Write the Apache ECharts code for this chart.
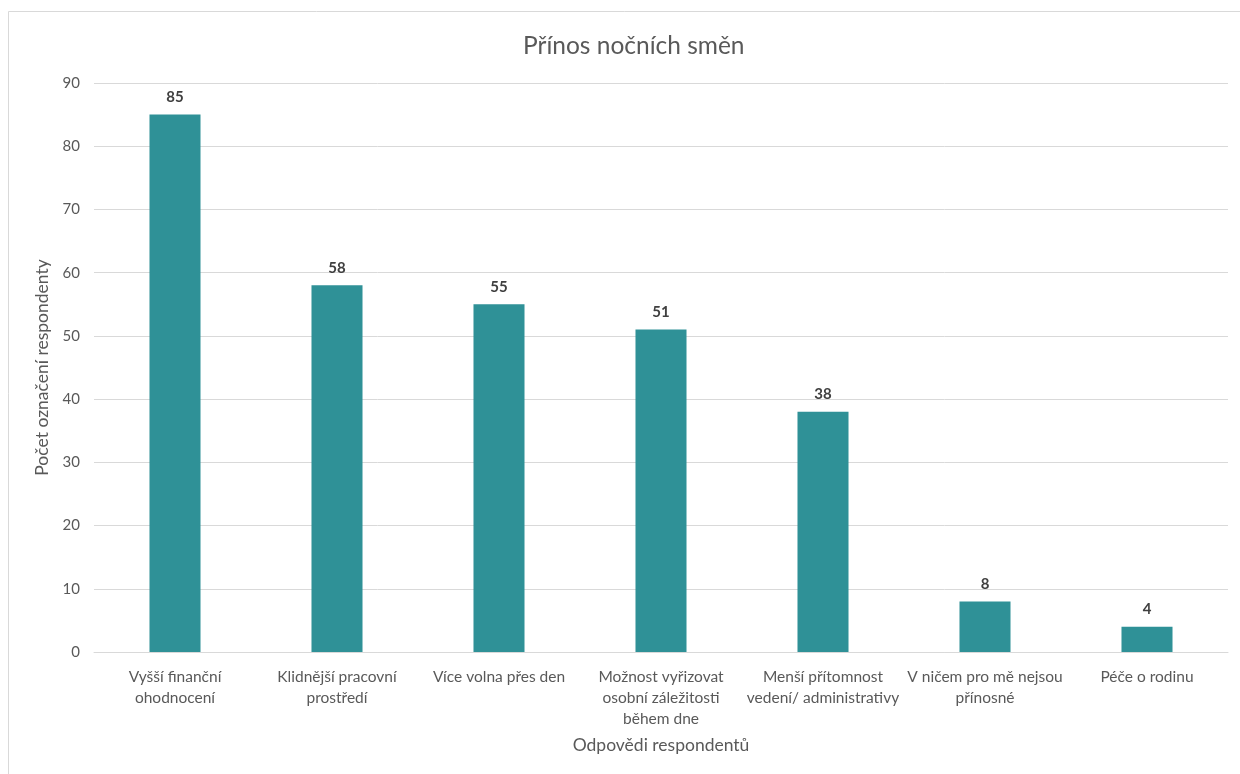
<!DOCTYPE html>
<html>
<head>
<meta charset="utf-8">
<title>Přínos nočních směn</title>
<script src="https://cdn.jsdelivr.net/npm/echarts@6/dist/echarts.min.js"></script>
<style>
    html, body { margin: 0; padding: 0; background: #fff; }
    #main { width: 1240px; height: 774px; }
</style>
</head>
<body>
<div id="main"></div>
<script>
var categories = [
    'Vyšší finanční\nohodnocení',
    'Klidnější pracovní\nprostředí',
    'Více volna přes den',
    'Možnost vyřizovat\nosobní záležitosti\nběhem dne',
    'Menší přítomnost\nvedení/ administrativy',
    'V ničem pro mě nejsou\npřínosné',
    'Péče o rodinu'
];
var values = [85, 58, 55, 51, 38, 8, 4];
var yTicks = { min: 0, max: 90, interval: 10 };

var font = 'Lato, "Open Sans", sans-serif';
var chart = echarts.init(document.getElementById('main'));

var option = {
    backgroundColor: '#fff',
    animation: false,
    title: {
        text: 'Přínos nočních směn',
        left: 518,
        top: 29,
        textStyle: { fontFamily: font, fontSize: 24.5, fontWeight: 'normal', color: '#595959' }
    },
    graphic: [{
        type: 'rect',
        shape: { x: 8.5, y: 11.5, width: 1240, height: 770 },
        style: { fill: 'none', stroke: '#d9d9d9', lineWidth: 1 },
        silent: true
    }],
    grid: { left: 94, right: 12, top: 83, bottom: 122 },
    xAxis: {
        type: 'category',
        data: categories,
        name: 'Odpovědi respondentů',
        nameLocation: 'middle',
        nameGap: 84,
        nameTextStyle: { fontFamily: font, fontSize: 17.5, color: '#595959' },
        axisLine: { lineStyle: { color: '#d9d9d9' } },
        axisTick: { show: false },
        axisLabel: {
            interval: 0,
            margin: 14,
            lineHeight: 21,
            fontFamily: font,
            fontSize: 15.5,
            color: '#595959'
        }
    },
    yAxis: {
        type: 'value',
        min: yTicks.min,
        max: yTicks.max,
        interval: yTicks.interval,
        name: 'Počet označení respondenty',
        nameLocation: 'middle',
        nameGap: 40,
        nameTextStyle: { fontFamily: font, fontSize: 17.5, color: '#595959' },
        axisLine: { show: false },
        axisTick: { show: false },
        axisLabel: { margin: 14, fontFamily: font, fontSize: 15, color: '#595959' },
        splitLine: { lineStyle: { color: '#d9d9d9' } }
    },
    series: [{
        type: 'bar',
        data: values,
        barWidth: '31.5%',
        itemStyle: { color: '#2f9197' },
        label: {
            show: true,
            position: 'top',
            distance: 10,
            fontFamily: font,
            fontSize: 15,
            fontWeight: 'bold',
            color: '#404040'
        }
    }]
};

chart.setOption(option);
</script>
</body>
</html>
